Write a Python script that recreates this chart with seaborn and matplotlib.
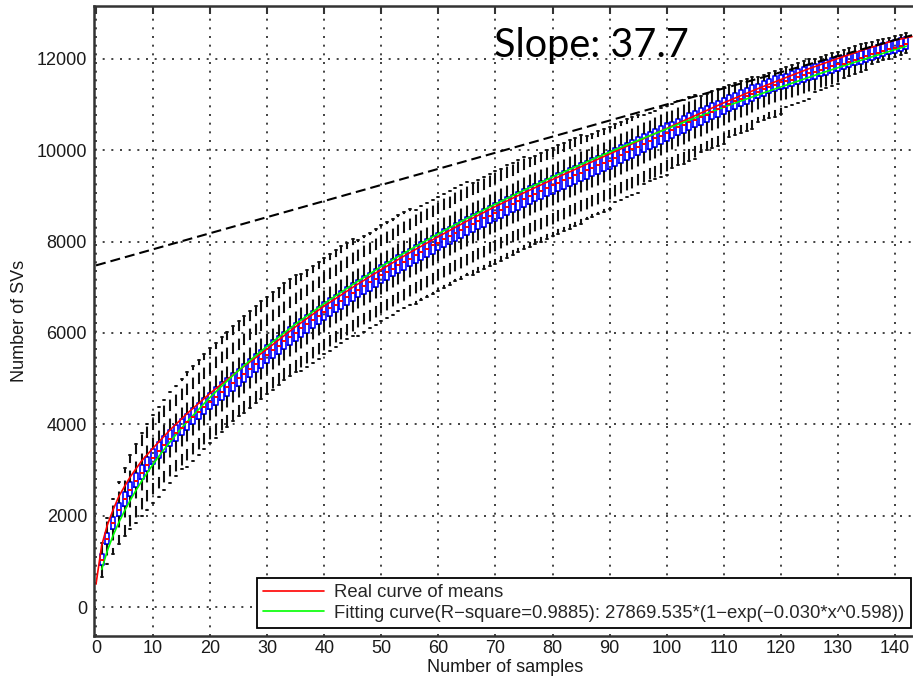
import numpy as np
import pandas as pd
import matplotlib
matplotlib.use("Agg")
import matplotlib.pyplot as plt
import seaborn as sns

# ---------------- data ----------------
sample_n = list(range(1, 143))

box_median = [
    1030, 1490, 1830, 2120, 2360, 2570, 2760, 2940, 3110, 3270,
    3420, 3550, 3680, 3800, 3920, 4040, 4160, 4270, 4380, 4490,
    4600, 4700, 4810, 4910, 5010, 5100, 5210, 5320, 5420, 5520,
    5620, 5720, 5820, 5910, 6010, 6100, 6190, 6280, 6370, 6460,
    6540, 6620, 6710, 6790, 6870, 6950, 7030, 7110, 7190, 7270,
    7340, 7410, 7490, 7560, 7630, 7700, 7780, 7850, 7920, 7980,
    8050, 8120, 8190, 8250, 8320, 8380, 8450, 8510, 8570, 8630,
    8690, 8760, 8820, 8880, 8940, 9000, 9050, 9110, 9170, 9230,
    9280, 9340, 9390, 9450, 9500, 9560, 9610, 9670, 9720, 9770,
    9840, 9900, 9960, 10020, 10080, 10140, 10200, 10260, 10320, 10380,
    10440, 10500, 10550, 10610, 10670, 10730, 10780, 10840, 10900, 10950,
    11010, 11070, 11120, 11180, 11230, 11280, 11340, 11390, 11440, 11490,
    11510, 11550, 11600, 11650, 11690, 11720, 11760, 11800, 11840, 11880,
    11900, 11940, 11980, 12020, 12060, 12100, 12140, 12180, 12220, 12250,
    12290, 12330]

box_q1 = [
    930, 1380, 1710, 1990, 2220, 2420, 2620, 2800, 2970, 3130,
    3260, 3390, 3520, 3640, 3760, 3880, 4000, 4110, 4220, 4330,
    4430, 4530, 4630, 4730, 4830, 4930, 5030, 5140, 5240, 5350,
    5450, 5540, 5640, 5740, 5830, 5920, 6010, 6100, 6190, 6280,
    6370, 6450, 6530, 6620, 6700, 6780, 6860, 6930, 7010, 7090,
    7170, 7240, 7310, 7390, 7460, 7530, 7600, 7670, 7740, 7810,
    7880, 7940, 8010, 8080, 8140, 8210, 8270, 8330, 8400, 8460,
    8520, 8580, 8640, 8700, 8760, 8820, 8880, 8940, 8990, 9050,
    9110, 9160, 9220, 9270, 9330, 9380, 9440, 9490, 9540, 9600,
    9660, 9720, 9780, 9840, 9900, 9960, 10020, 10080, 10140, 10200,
    10270, 10330, 10390, 10450, 10510, 10560, 10620, 10680, 10730, 10790,
    10850, 10900, 10960, 11010, 11070, 11140, 11190, 11250, 11300, 11340,
    11360, 11410, 11460, 11500, 11550, 11570, 11620, 11660, 11700, 11740,
    11780, 11820, 11860, 11900, 11940, 11980, 12020, 12060, 12100, 12130,
    12170, 12210]

box_q3 = [
    1150, 1620, 1970, 2270, 2520, 2740, 2940, 3120, 3290, 3450,
    3610, 3740, 3870, 3990, 4110, 4230, 4350, 4460, 4570, 4680,
    4820, 4920, 5020, 5120, 5220, 5320, 5420, 5530, 5630, 5740,
    5840, 5930, 6030, 6130, 6220, 6310, 6400, 6490, 6580, 6670,
    6760, 6840, 6920, 7010, 7090, 7170, 7250, 7320, 7400, 7480,
    7560, 7630, 7700, 7780, 7850, 7920, 7990, 8060, 8130, 8200,
    8270, 8330, 8400, 8470, 8530, 8600, 8660, 8720, 8790, 8850,
    8910, 8970, 9030, 9090, 9150, 9210, 9270, 9330, 9380, 9440,
    9500, 9550, 9610, 9660, 9720, 9770, 9830, 9880, 9930, 9990,
    10050, 10110, 10170, 10230, 10290, 10350, 10410, 10470, 10530, 10590,
    10630, 10690, 10750, 10810, 10870, 10920, 10980, 11040, 11090, 11150,
    11210, 11260, 11320, 11370, 11430, 11460, 11510, 11570, 11620, 11660,
    11680, 11730, 11780, 11820, 11870, 11890, 11940, 11980, 12020, 12060,
    12060, 12100, 12140, 12180, 12220, 12260, 12300, 12340, 12380, 12410,
    12450, 12490]

whisker_low = [
    650, 940, 1170, 1370, 1550, 1710, 1850, 1990, 2130, 2270,
    2400, 2560, 2720, 2870, 3020, 3060, 3200, 3330, 3460, 3590,
    3710, 3830, 3950, 4070, 4180, 4240, 4350, 4460, 4560, 4660,
    4760, 4860, 4960, 5050, 5150, 5170, 5260, 5350, 5440, 5530,
    5610, 5690, 5780, 5860, 5940, 5940, 6020, 6100, 6180, 6260,
    6330, 6400, 6480, 6550, 6620, 6640, 6720, 6790, 6860, 6920,
    6990, 7060, 7130, 7190, 7260, 7270, 7340, 7400, 7460, 7520,
    7580, 7650, 7710, 7770, 7830, 7890, 7940, 8000, 8060, 8120,
    8170, 8230, 8280, 8340, 8390, 8500, 8550, 8610, 8660, 8710,
    8870, 8920, 8970, 9020, 9070, 9270, 9320, 9370, 9420, 9470,
    9620, 9670, 9710, 9760, 9810, 9960, 10000, 10050, 10100, 10140,
    10290, 10340, 10380, 10430, 10470, 10610, 10660, 10700, 10740, 10790,
    10950, 10990, 11040, 11080, 11120, 11280, 11330, 11370, 11410, 11450,
    11590, 11630, 11670, 11710, 11750, 11890, 11930, 11970, 12010, 12040,
    12080, 12120]

whisker_high = [
    1400, 1940, 2370, 2730, 3050, 3330, 3570, 3800, 4010, 4200,
    4380, 4540, 4700, 4850, 5000, 5140, 5280, 5410, 5540, 5670,
    5790, 5910, 6030, 6150, 6260, 6370, 6480, 6590, 6690, 6790,
    6890, 6990, 7090, 7180, 7280, 7290, 7380, 7470, 7560, 7650,
    7730, 7810, 7900, 7980, 8060, 8040, 8120, 8200, 8280, 8360,
    8430, 8500, 8580, 8650, 8720, 8690, 8770, 8840, 8910, 8970,
    9040, 9110, 9180, 9240, 9310, 9290, 9360, 9420, 9480, 9540,
    9600, 9670, 9730, 9790, 9850, 9830, 9880, 9940, 10000, 10060,
    10110, 10170, 10220, 10280, 10330, 10310, 10360, 10420, 10470, 10520,
    10580, 10630, 10680, 10730, 10780, 10770, 10820, 10870, 10920, 10970,
    11020, 11070, 11110, 11160, 11210, 11200, 11240, 11290, 11340, 11380,
    11430, 11480, 11520, 11570, 11610, 11600, 11650, 11690, 11730, 11780,
    11820, 11860, 11910, 11950, 11990, 11990, 12040, 12080, 12120, 12160,
    12200, 12240, 12280, 12320, 12360, 12380, 12410, 12440, 12470, 12500,
    12530, 12560]

fit_x = list(range(1, 143))
fit_y = [
    823, 1237, 1567, 1851, 2105, 2337, 2553, 2754, 2944, 3124,
    3296, 3461, 3619, 3771, 3918, 4059, 4196, 4330, 4462, 4591,
    4713, 4833, 4951, 5067, 5181, 5291, 5399, 5505, 5609, 5711,
    5810, 5908, 6005, 6102, 6198, 6289, 6379, 6468, 6557, 6645,
    6730, 6814, 6897, 6980, 7062, 7142, 7221, 7299, 7377, 7455,
    7530, 7604, 7677, 7750, 7823, 7894, 7965, 8035, 8105, 8174,
    8242, 8309, 8376, 8442, 8508, 8572, 8635, 8698, 8761, 8823,
    8884, 8945, 9006, 9067, 9127, 9185, 9243, 9301, 9359, 9417,
    9473, 9528, 9583, 9638, 9693, 9747, 9801, 9855, 9909, 9963,
    10015, 10066, 10117, 10168, 10219, 10269, 10319, 10369, 10419, 10468,
    10517, 10566, 10614, 10662, 10710, 10757, 10804, 10851, 10898, 10944,
    10990, 11035, 11080, 11125, 11170, 11214, 11258, 11301, 11344, 11387,
    11430, 11473, 11516, 11559, 11602, 11644, 11686, 11727, 11768, 11809,
    11850, 11890, 11930, 11970, 12010, 12049, 12088, 12127, 12166, 12204,
    12242, 12280]

mean_x = [0, 1, 2, 3, 4, 5, 6, 8, 10, 13, 16, 20, 25, 30, 35, 40, 45, 50, 55,
          60, 65, 70, 75, 80, 85, 90, 95, 100, 105, 110, 115, 120, 125, 130,
          135, 140, 143]
mean_y = [500, 1350, 1800, 2130, 2420, 2640, 2850, 3200, 3480, 3880, 4240,
          4680, 5180, 5650, 6140, 6590, 7000, 7390, 7760, 8110, 8450, 8770,
          9070, 9360, 9640, 9920, 10200, 10480, 10760, 11040, 11300, 11550,
          11790, 12010, 12220, 12410, 12490]

tangent_x = [0, 143]
tangent_y = [7480, 12520]

x_ticks = list(range(0, 141, 10))
y_ticks = list(range(0, 12001, 2000))

label_mean = "Real curve of means"
label_fit = "Fitting curve(R\u2212square=0.9885): 27869.535*(1\u2212exp(\u22120.030*x^0.598))"
slope_text = "Slope: 37.7"

# ---------------- figure ----------------
sns.set_theme(style="white")
plt.rcParams['font.family'] = ['Liberation Sans', 'DejaVu Sans']

W, H = 913, 677
fig = plt.figure(figsize=(W / 100, H / 100), dpi=100)
ax = fig.add_axes([94 / W, 1 - 636 / H, 822 / W, 630 / H])

rows = []
for n, lo, q1, md, q3, hi in zip(sample_n, whisker_low, box_q1, box_median,
                                 box_q3, whisker_high):
    for v in (lo, q1, md, q3, hi):
        rows.append((n, v))
df = pd.DataFrame(rows, columns=["n", "sv"])

sns.boxplot(
    data=df, x="n", y="sv", native_scale=True, fill=False, width=0.7,
    whis=np.inf, showfliers=False, color="#0000ff", ax=ax,
    boxprops=dict(color="#0000ff", linewidth=1.2),
    medianprops=dict(color="#ff0000", linewidth=1.4),
    whiskerprops=dict(color="#111111", linewidth=1.5,
                      linestyle=(0, (5.5, 3.6))),
    capprops=dict(color="#111111", linewidth=1.4),
)

sns.lineplot(x=mean_x, y=mean_y, color="#ff0000", linewidth=1.2, ax=ax,
             label=label_mean)
sns.lineplot(x=fit_x, y=fit_y, color="#00ff00", linewidth=1.2, ax=ax,
             label=label_fit)
sns.lineplot(x=tangent_x, y=tangent_y, color="black", linewidth=1.5,
             linestyle=(0, (4.8, 2.4)), ax=ax)

ax.set_xlim(-0.35, 143.7)
ax.set_ylim(-635, 13160)
ax.set_xticks(x_ticks)
ax.set_yticks(y_ticks)
ax.set_xticklabels([str(t) for t in x_ticks])
ax.set_yticklabels([str(t) for t in y_ticks])

ax.grid(True, color="#222222", linestyle=(0, (1.2, 4)), linewidth=1.2)
ax.set_axisbelow(True)

ax.tick_params(direction="in", length=6, width=1.5, top=True, right=False,
               labelsize=13, colors="#333333", labelcolor="#1a1a1a")
ax.tick_params(axis="x", pad=3)
ax.tick_params(axis="y", pad=5)
for s in ax.spines.values():
    s.set_color("#333333")
    s.set_linewidth(1.8)

ax.set_xlabel("Number of samples", fontsize=13, labelpad=1, color="#1a1a1a")
ax.set_ylabel("Number of SVs", fontsize=13, labelpad=6, color="#1a1a1a")

leg = ax.legend(loc="lower right", bbox_to_anchor=(0.994, 0.0127),
                fontsize=13.3, frameon=True, fancybox=False, edgecolor="black",
                framealpha=1, borderpad=0.35, labelspacing=0.18,
                handlelength=3.3, handletextpad=0.55, borderaxespad=0)
leg.get_frame().set_linewidth(1.3)

fig.text(494 / W, 1 - 57 / H, slope_text, fontsize=28.5,
         family=["Lato", "DejaVu Sans"], va="baseline", ha="left",
         color="black")

fig.savefig("out.png", dpi=100)
